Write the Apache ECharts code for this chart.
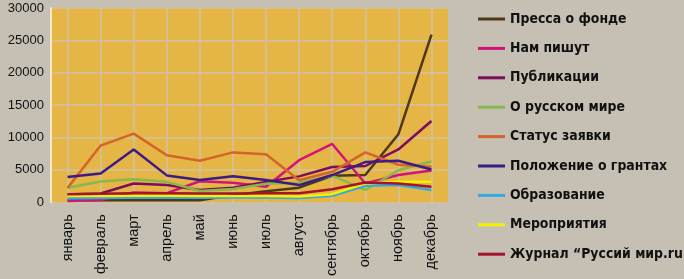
<!DOCTYPE html>
<html>
<head>
<meta charset="utf-8">
<script src="https://cdn.jsdelivr.net/npm/echarts@6/dist/echarts.min.js"></script>
<style>
  html, body { margin: 0; padding: 0; background: #c5c0b3; }
  #chart { width: 684px; height: 279px; }
</style>
</head>
<body>
<div id="chart"></div>
<script>
// месяцы по оси X
var months = ['январь', 'февраль', 'март', 'апрель', 'май', 'июнь',
  'июль', 'август', 'сентябрь', 'октябрь', 'ноябрь', 'декабрь'];

var pressa      = [300, 300, 300, 300, 300, 1100, 1700, 2250, 4100, 4200, 10500, 25900];
var namPishut   = [200, 350, 1500, 1400, 3250, 3000, 2400, 6500, 9000, 2900, 4200, 4900];
var publikacii  = [1200, 1350, 2900, 2650, 1900, 2250, 3150, 4000, 5450, 5600, 8150, 12550];
var russkiyMir  = [2250, 3200, 3550, 3150, 1750, 2050, 2850, 3000, 4100, 1900, 4950, 6300];
var statusZ     = [2200, 8750, 10600, 7250, 6400, 7700, 7400, 3400, 4700, 7700, 5800, 5500];
var polozhenie  = [3900, 4450, 8150, 4150, 3450, 4000, 3450, 2650, 4200, 6200, 6400, 5050];
var obrazovanie = [600, 650, 700, 700, 700, 750, 750, 650, 1000, 2550, 2650, 1900];
var meropriyat  = [950, 950, 1000, 1000, 950, 950, 950, 900, 1250, 2900, 3150, 3150];
var zhurnal     = [1250, 1300, 1400, 1400, 1350, 1350, 1400, 1400, 2000, 3050, 2900, 2400];

var yTicks = [0, 5000, 10000, 15000, 20000, 25000, 30000];

var names = ['Пресса о фонде', 'Нам пишут', 'Публикации', 'О русском мире', 'Статус заявки',
  'Положение о грантах', 'Образование', 'Мероприятия', 'Журнал “Руссий мир.ru”'];
var colors = ['#4e3819', '#d0147c', '#7c0c5c', '#88b84c', '#d4642c',
  '#3c1c84', '#34a8e0', '#f4f000', '#a4142c'];
var values = [pressa, namPishut, publikacii, russkiyMir, statusZ,
  polozhenie, obrazovanie, meropriyat, zhurnal];

// вспомогательная ось: сетка по центрам месяцев (25 полушагов)
var halfSteps = [];
for (var i = 0; i <= months.length * 2; i++) halfSteps.push('');

var series = names.map(function (n, i) {
  return {
    name: n,
    type: 'line',
    data: values[i],
    symbol: 'none',
    color: colors[i],
    lineStyle: { width: 2.5, color: colors[i] },
    emphasis: { disabled: true }
  };
});

var MyEcharts = echarts.init(document.getElementById('chart'));
MyEcharts.setOption({
  backgroundColor: '#c5c0b3',
  animation: false,
  grid: {
    left: 51, right: 236, top: 8, bottom: 75,
    show: true,
    backgroundColor: '#e5b545',
    borderWidth: 0
  },
  legend: {
    data: names,
    orient: 'vertical',
    left: 478,
    top: 10,
    padding: 0,
    itemWidth: 27,
    itemHeight: 3,
    itemGap: 11.4,
    icon: 'rect',
    textStyle: {
      fontFamily: 'DejaVu Sans Condensed',
      fontWeight: 'bold',
      fontSize: 13.9,
      lineHeight: 18,
      color: '#111'
    }
  },
  xAxis: [{
    type: 'category',
    data: months,
    boundaryGap: true,
    axisLine: { show: false },
    axisTick: { show: false },
    splitLine: { show: false },
    axisLabel: {
      rotate: 90,
      margin: 12,
      interval: 0,
      fontFamily: 'Liberation Sans',
      fontSize: 14.5,
      color: '#111'
    }
  }, {
    type: 'category',
    data: halfSteps,
    boundaryGap: false,
    position: 'top',
    axisLine: { show: false },
    axisTick: { show: false },
    axisLabel: { show: false },
    splitLine: {
      show: true,
      interval: function (index) { return index % 2 === 1; },
      lineStyle: { color: '#cfc3a6', width: 1.5 }
    }
  }],
  yAxis: {
    type: 'value',
    min: yTicks[0],
    max: yTicks[yTicks.length - 1],
    interval: 5000,
    axisLine: { show: true, lineStyle: { color: '#f3e9c6', width: 2 } },
    axisTick: { show: false },
    axisLabel: {
      margin: 7,
      fontFamily: 'Liberation Sans',
      fontSize: 13,
      color: '#111',
      formatter: function (v) { return String(v); }
    },
    splitLine: { lineStyle: { color: '#cfc3a6', width: 1.5 } }
  },
  series: series
});
</script>
</body>
</html>
